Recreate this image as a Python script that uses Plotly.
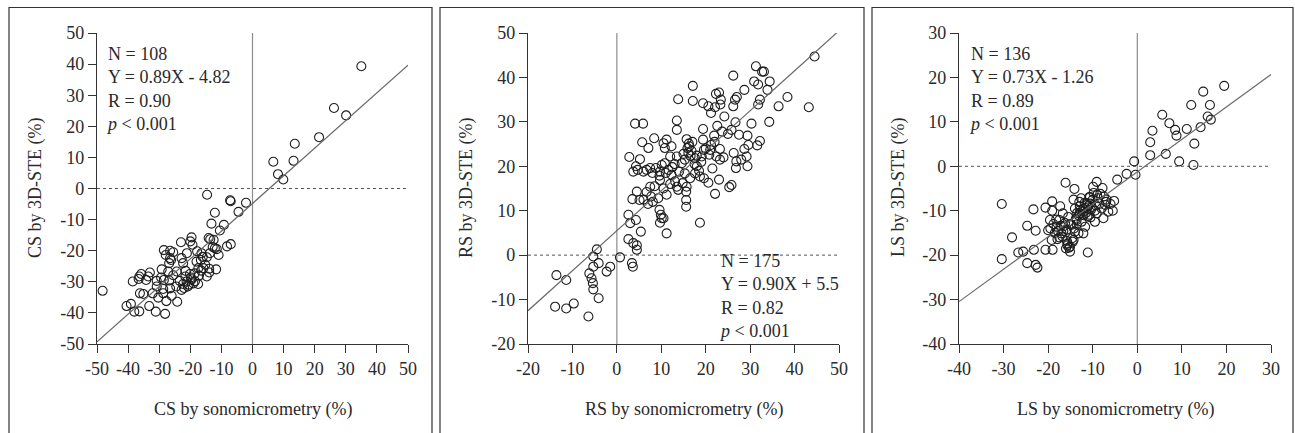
import plotly.graph_objects as go

W, H = 1295, 433

# ---------------- data ----------------
cs_x = [35.0, 26.2, 30.1, 21.4, 13.6, 13.2, 6.7, 8.2, 9.9, -14.6, -7.0, -2.1, -4.5, -12.1,
        -13.2, -9.2, -10.5, -13.6, -19.6, -23.0, -19.3, -14.1, -12.5, -7.0, -8.2, -12.1,
        -10.9, -17.8, -21.1, -28.5, -26.5, -27.9, -26.5, -26.8, -22.8, -22.3, -18.0, -16.6,
        -14.7, -13.7, -11.7, -13.9, -14.7, -13.9, -16.5, -18.6, -20.1, -21.6, -19.6, -21.2,
        -22.3, -20.5, -19.0, -17.5, -22.8, -22.0, -23.4, -24.4, -25.5, -27.1, -29.2, -29.4,
        -28.5, -26.8, -30.8, -30.8, -28.7, -26.5, -28.7, -32.1, -30.3, -27.7, -24.2, -33.2,
        -31.1, -28.1, -33.5, -36.4, -36.6, -34.2, -38.5, -36.2, -35.1, -40.5, -39.1, -38.0,
        -36.4, -48.2, -16.4, -15.8, -17.4, -19.8, -18.5, -20.8, -17.2, -21.5, -24.5, -26.0,
        -15.2, -16.0, -12.8, -11.5, -25.5, -26.2, -33.0, -35.8, -20.0, -7.2]
cs_y = [39.3, 25.9, 23.5, 16.5, 14.4, 8.9, 8.6, 4.6, 2.9, -2.0, -4.1, -4.6, -7.5, -7.8,
        -11.3, -11.7, -13.5, -16.3, -15.7, -17.3, -18.1, -15.9, -16.5, -17.9, -18.6, -19.2,
        -21.4, -20.2, -20.8, -19.8, -20.0, -21.4, -22.4, -24.0, -22.4, -24.0, -23.5, -23.0,
        -22.1, -20.8, -26.0, -25.8, -28.3, -27.0, -26.4, -27.3, -27.5, -28.3, -29.2, -29.9,
        -30.7, -30.9, -30.5, -30.7, -32.6, -32.0, -29.7, -26.7, -27.9, -26.7, -26.0, -28.6,
        -29.4, -29.6, -29.7, -31.5, -32.3, -32.1, -33.7, -33.7, -35.1, -36.2, -36.4, -37.8,
        -39.6, -40.3, -28.3, -28.3, -29.1, -29.4, -29.9, -33.7, -33.9, -37.8, -37.1, -39.6,
        -39.5, -32.9, -20.8, -25.6, -25.6, -28.6, -29.8, -31.5, -28.0, -26.5, -31.5, -34.5,
        -24.5, -22.0, -18.8, -19.5, -20.5, -23.0, -27.0, -27.5, -17.0, -3.8]

rs_x = [44.5, 43.2, 38.4, 36.4, 34.3, 34.4, 33.1, 32.7, 33.9, 31.3, 30.9, 31.8, 31.8, 32.2,
        30.3, 29.6, 31.6, 32.2, 28.7, 26.2, 26.6, 27.0, 26.2, 26.7, 25.8, 27.5, 28.7, 29.4,
        29.2, 29.4, 26.9, 26.8, 26.3, 25.8, 25.3, 23.0, 22.3, 23.4, 23.3, 22.1, 21.2, 20.6,
        19.4, 17.1, 17.1, 24.2, 23.7, 22.6, 21.9, 19.4, 19.4, 21.2, 23.2, 23.2, 22.4, 20.8,
        21.0, 19.6, 19.1, 18.0, 15.7, 16.2, 15.9, 16.1, 16.6, 17.6, 15.3, 14.6, 13.5, 12.3,
        10.5, 10.8, 12.0, 13.5, 13.5, 13.8, 11.2, 8.4, 7.1, 5.7, 4.1, 5.9, 5.2, 2.8, 4.3,
        3.7, 4.7, 6.7, 7.5, 8.8, 9.7, 10.1, 10.8, 11.6, 9.7, 9.6, 12.3, 13.1, 13.5, 13.8,
        14.8, 15.3, 15.7, 15.6, 15.6, 15.6, 16.5, 17.6, 18.0, 18.7, 19.6, 20.6, 22.1, 18.7,
        4.5, 6.7, 7.5, 7.7, 5.1, 8.1, 9.3, 11.2, 3.5, 2.6, 3.0, 4.3, 5.4, 9.6, 9.9, 10.1,
        9.7, 10.5, 11.2, 2.6, 3.7, 4.5, 4.5, 3.4, 3.6, 0.7, -1.5, -2.3, -4.5, -5.3, -4.1,
        -5.3, -6.2, -5.7, -5.4, -5.3, -4.1, -6.4, -13.6, -11.4, -13.9, -11.4, -9.7,
        16.3, 16.8, 15.0, 17.5, 18.5, 12.5, 11.0, 14.0, 8.0, 6.0, 21.5, 22.0, 25.0, 20.0,
        13.0, 17.0, 19.0, 24.0, 23.0, 10.5, 12.0, 8.5, 7.0, 6.0, 28.0]
rs_y = [44.7, 33.3, 35.6, 33.5, 30.0, 39.1, 41.3, 41.3, 37.2, 42.5, 39.1, 38.4, 33.9, 35.0,
        29.6, 24.8, 24.7, 25.7, 37.2, 40.4, 35.0, 35.6, 33.5, 29.9, 28.2, 27.1, 23.9, 26.9,
        22.2, 20.0, 21.1, 19.6, 23.0, 15.8, 15.3, 36.6, 36.3, 35.0, 33.9, 33.3, 32.0, 33.5,
        34.2, 34.7, 38.1, 31.2, 27.8, 29.1, 26.9, 28.4, 26.0, 24.8, 23.9, 21.5, 22.2, 22.6,
        23.7, 23.7, 22.2, 22.4, 26.1, 25.1, 24.1, 23.0, 22.3, 21.8, 21.5, 20.7, 22.2, 24.5,
        25.2, 24.1, 22.2, 30.3, 28.2, 35.1, 26.0, 26.3, 24.1, 25.4, 29.6, 29.6, 21.6, 22.1,
        20.0, 18.8, 19.2, 19.2, 19.6, 19.6, 18.8, 20.3, 20.7, 19.2, 16.9, 17.9, 18.1, 16.6,
        15.4, 14.7, 16.2, 18.4, 15.4, 14.3, 12.4, 10.9, 17.3, 18.4, 20.0, 17.7, 17.3, 16.3,
        13.8, 7.3, 14.3, 14.2, 15.4, 13.2, 12.4, 12.0, 12.8, 13.6, 12.6, 9.1, 7.2, 7.9, 5.3,
        10.2, 9.1, 8.3, 7.3, 8.3, 4.9, 3.6, 2.7, 2.2, 1.2, -1.8, -2.6, -0.5, -2.6, -3.7, 1.3,
        -0.3, -1.8, -2.6, -4.1, -5.2, -6.3, -7.7, -9.7, -13.8, -4.5, -5.6, -11.6, -12.0,
        -10.9, 24.5, 23.5, 22.8, 20.5, 19.0, 19.8, 18.5, 18.8, 18.5, 18.8, 19.5, 25.5, 27.3,
        24.0, 20.5, 25.5, 21.0, 22.0, 17.0, 15.0, 16.0, 15.5, 11.5, 12.5, 21.5]

ls_x = [19.5, 14.8, 12.1, 16.3, 15.8, 16.5, 14.2, 11.1, 5.6, 7.2, 8.5, 8.8, 12.8, 3.4, 2.9,
        2.9, 6.4, 9.4, 12.6, -0.7, -0.4, -2.4, -4.5, -5.2, -7.8, -9.1, -9.9, -6.9, -7.2,
        -6.5, -7.6, -9.1, -9.5, -10.6, -10.6, -12.1, -12.1, -11.7, -11.1, -13.2, -14.3,
        -15.1, -15.7, -15.1, -14.3, -14.1, -16.1, -12.9, -13.6, -15.5, -16.7, -17.5, -18.1,
        -17.0, -15.8, -14.0, -17.3, -19.1, -19.1, -20.6, -19.6, -20.0, -19.2, -19.0, -20.6,
        -23.3, -24.7, -22.8, -23.2, -25.6, -26.7, -24.7, -22.8, -22.4, -28.1, -30.4, -30.4,
        -12.1, -11.0, -10.0, -9.0, -8.5, -11.5, -13.0, -14.0, -12.5, -10.5, -16.5, -17.5,
        -15.0, -14.5, -16.0, -15.3, -18.5, -19.5, -13.5, -8.0, -9.5, -7.0, -6.0, -5.5,
        -10.2, -11.8, -12.8, -13.8, -8.8, -9.8, -10.8, -14.8, -16.8, -17.8, -18.8, -11.2,
        -12.2, -15.6, -14.6, -13.2, -16.2, -17.2, -18.2, -9.3, -8.3, -7.5, -12.6, -11.6,
        -10.4, -15.8, -14.2, -16.6, -13.6, -12.9, -11.4, -10.8, -17.9]
ls_y = [18.1, 16.8, 13.8, 13.8, 11.2, 10.5, 8.8, 8.4, 11.6, 9.7, 8.2, 6.9, 5.1, 8.0, 5.4,
        2.5, 2.8, 1.1, 0.3, 1.1, -1.9, -1.7, -3.0, -7.8, -4.9, -3.5, -4.6, -7.5, -8.7,
        -10.2, -11.7, -10.6, -12.5, -6.9, -8.4, -9.6, -11.0, -13.6, -19.4, -15.1, -16.6,
        -18.1, -17.8, -19.2, -7.5, -5.1, -3.7, -10.6, -12.1, -11.4, -10.6, -12.1, -13.6,
        -15.1, -14.3, -14.7, -9.0, -7.9, -10.0, -9.3, -12.1, -14.4, -16.6, -18.8, -18.8,
        -9.7, -13.4, -14.5, -18.8, -19.2, -19.4, -21.8, -22.2, -22.8, -16.0, -8.5, -20.9,
        -15.1, -9.0, -7.5, -6.5, -8.5, -10.5, -8.0, -9.5, -12.5, -11.5, -13.5, -16.0,
        -13.0, -17.0, -18.5, -18.3, -15.0, -14.0, -10.5, -9.5, -10.0, -8.0, -8.5, -10.0,
        -9.2, -8.2, -9.8, -11.8, -7.2, -6.0, -10.9, -13.2, -15.8, -14.6, -13.0, -11.3,
        -10.2, -17.4, -16.2, -11.0, -12.8, -13.4, -12.0, -8.8, -6.2, -6.8, -7.2, -9.4,
        -9.8, -16.8, -14.0, -14.6, -13.1, -9.0, -8.3, -7.0, -16.4]

# regression fits and stats (as printed in the reference)
panels = [
    dict(x=cs_x, y=cs_y, slope=0.89, icpt=-4.82, rng=[-50, 50], yrng=[-50, 50],
         xt=[-50, -40, -30, -20, -10, 0, 10, 20, 30, 40, 50],
         yt=[-50, -40, -30, -20, -10, 0, 10, 20, 30, 40, 50],
         xtitle="CS by sonomicrometry (%)", ytitle="CS by 3D-STE (%)",
         stats=["N = 108", "Y = 0.89X - 4.82", "R = 0.90", "<i>p</i> < 0.001"]),
    dict(x=rs_x, y=rs_y, slope=0.90, icpt=5.5, rng=[-20, 50], yrng=[-20, 50],
         xt=[-20, -10, 0, 10, 20, 30, 40, 50],
         yt=[-20, -10, 0, 10, 20, 30, 40, 50],
         xtitle="RS by sonomicrometry (%)", ytitle="RS by 3D-STE (%)",
         stats=["N = 175", "Y = 0.90X + 5.5", "R = 0.82", "<i>p</i> < 0.001"]),
    dict(x=ls_x, y=ls_y, slope=0.73, icpt=-1.26, rng=[-40, 30], yrng=[-40, 30],
         xt=[-40, -30, -20, -10, 0, 10, 20, 30],
         yt=[-40, -30, -20, -10, 0, 10, 20, 30],
         xtitle="LS by sonomicrometry (%)", ytitle="LS by 3D-STE (%)",
         stats=["N = 136", "Y = 0.73X - 1.26", "R = 0.89", "<i>p</i> < 0.001"]),
]

# ---------------- layout geometry (pixels) ----------------
plot_px = [(97, 408), (528, 839), (959, 1271)]
box_px = [(9, 432), (440, 864), (872, 1293)]
ytop, ybot = 33, 344
stats_pos = [(104, 42), (717, 249), (967, 42)]

FONT = "Liberation Serif"
TXT = "#2a2a2a"

def px(xp):
    return xp / W

def py(yp):
    return 1 - yp / H

fig = go.Figure()
shapes = []
annotations = []

for i, p in enumerate(panels):
    n = i + 1
    xa = "x" if n == 1 else f"x{n}"
    ya = "y" if n == 1 else f"y{n}"
    # scatter points
    fig.add_trace(go.Scatter(
        x=p["x"], y=p["y"], mode="markers", xaxis=xa, yaxis=ya,
        marker=dict(symbol="circle-open", size=9, color="#1e1e1e", line=dict(width=1.1)),
        showlegend=False, hoverinfo="skip"))
    # regression line
    lx = [p["rng"][0], p["rng"][1]]
    ly = [p["slope"] * v + p["icpt"] for v in lx]
    fig.add_trace(go.Scatter(
        x=lx, y=ly, mode="lines", xaxis=xa, yaxis=ya,
        line=dict(color="#6a6a6a", width=1.2), showlegend=False, hoverinfo="skip"))

    x0, x1 = plot_px[i]
    axis_common = dict(showgrid=False, zeroline=False, showline=True, linecolor="#333",
                       linewidth=1.2, ticks="outside", ticklen=8, tickwidth=1.2,
                       tickcolor="#333", tickfont=dict(family=FONT, size=18, color=TXT),
                       tickmode="array", fixedrange=True, automargin=False)
    fig.layout[f"xaxis{'' if n == 1 else n}"] = dict(
        domain=[px(x0), px(x1)], range=p["rng"], anchor=ya,
        tickvals=p["xt"], ticktext=[str(v) for v in p["xt"]], **axis_common)
    fig.layout[f"yaxis{'' if n == 1 else n}"] = dict(
        domain=[py(ybot), py(ytop)], range=p["yrng"], anchor=xa,
        tickvals=p["yt"], ticktext=[str(v) for v in p["yt"]], **axis_common)

    # zero reference lines
    shapes.append(dict(type="line", xref=xa, yref=f"{ya} domain", x0=0, x1=0, y0=0, y1=1,
                       line=dict(color="#8c8c8c", width=1.2), layer="below"))
    shapes.append(dict(type="line", xref=f"{xa} domain", yref=ya, x0=0, x1=1, y0=0, y1=0,
                       line=dict(color="#555", width=1, dash="dot"), layer="below"))
    # panel frame (open at the bottom, cut by the image edge)
    b0, b1 = box_px[i]
    shapes.append(dict(type="rect", xref="paper", yref="paper", x0=px(b0), x1=px(b1),
                       y0=-0.1, y1=py(7.5), line=dict(color="#333", width=1.2)))

    # stats text
    sx, sy = stats_pos[i]
    annotations.append(dict(xref="paper", yref="paper", x=px(sx), y=py(sy),
                            xanchor="left", yanchor="top", align="left", showarrow=False,
                            text="<br>".join(p["stats"]),
                            font=dict(family=FONT, size=18, color=TXT)))
    # axis titles
    annotations.append(dict(xref="paper", yref="paper", x=px((x0 + x1) / 2), y=py(409),
                            xanchor="center", yanchor="middle", showarrow=False,
                            text=p["xtitle"], font=dict(family=FONT, size=18, color=TXT)))
    annotations.append(dict(xref="paper", yref="paper", x=px(box_px[i][0] + 26), y=py(188),
                            xanchor="center", yanchor="middle", showarrow=False, textangle=-90,
                            text=p["ytitle"], font=dict(family=FONT, size=18, color=TXT)))

fig.update_layout(template="none", width=W, height=H, margin=dict(l=0, r=0, t=0, b=0),
                  paper_bgcolor="white", plot_bgcolor="white",
                  shapes=shapes, annotations=annotations,
                  font=dict(family=FONT, color=TXT))

fig.write_html("out.html", config={"displayModeBar": False})
